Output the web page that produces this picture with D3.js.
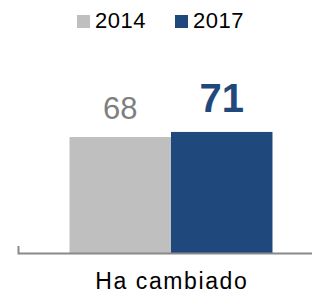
<!DOCTYPE html>
<html>
<head>
<meta charset="utf-8">
<script src="https://cdn.jsdelivr.net/npm/d3@7"></script>
<style>
  body { margin: 0; background: #fff; }
  svg { display: block; font-family: "Liberation Sans", Arial, sans-serif; }
</style>
</head>
<body>
<div id="chart"></div>
<script>
const categories = ["Ha cambiado"];
const years = ["2014", "2017"];
const values2014 = [68];
const values2017 = [71];
const yearColors = ["#bfbfbf", "#1f497d"];

(function chart() {
  const width = 312, height = 294,
    axisY = 253;

  const svg = d3.select("#chart")
    .append("svg")
    .attr("width", width)
    .attr("height", height);

  const data = categories.map((c, i) => ({ cat: c, vals: [values2014[i], values2017[i]] }));

  const x0 = d3.scaleBand(categories, [18, 324]).padding(0.2024);
  const x1 = d3.scaleBand(years, [0, x0.bandwidth()]);
  const y = d3.scaleLinear([0, 100], [axisY, axisY - 170.5]);
  const color = d3.scaleOrdinal(years, yearColors);

  const groups = svg.selectAll(".cat")
    .data(data)
    .join("g")
    .attr("class", "cat")
    .attr("transform", d => `translate(${x0(d.cat)},0)`);

  groups.selectAll("rect")
    .data(d => d.vals.map((v, i) => ({ year: years[i], v })))
    .join("rect")
    .attr("x", d => x1(d.year))
    .attr("y", d => y(d.v))
    .attr("width", x1.bandwidth())
    .attr("height", d => y(0) - y(d.v))
    .attr("fill", d => color(d.year));

  groups.selectAll(".val")
    .data(d => d.vals.map((v, i) => ({ year: years[i], v })))
    .join("text")
    .attr("class", "val")
    .attr("text-anchor", "middle")
    .attr("x", d => x1(d.year) + x1.bandwidth() / 2)
    .attr("y", d => d.year === "2014" ? y(d.v) - 18 : y(d.v) - 20)
    .attr("fill", d => d.year === "2014" ? "#7f7f7f" : "#1f497d")
    .attr("font-size", d => d.year === "2014" ? 31 : 40)
    .attr("font-weight", d => d.year === "2014" ? "normal" : "bold")
    .text(d => d.v);

  const axis = svg.append("g")
    .attr("transform", `translate(0,${axisY})`)
    .call(d3.axisBottom(x0).tickSize(0).tickSizeOuter(-7).tickPadding(19.5));
  axis.select(".domain").attr("stroke", "#898989").attr("stroke-width", 2);
  axis.selectAll(".tick text")
    .attr("font-size", 23)
    .attr("letter-spacing", 1.6)
    .attr("dx", 0.8)
    .attr("font-family", "Liberation Sans, Arial, sans-serif")
    .attr("fill", "#000");

  // legend
  const legendX = [77, 175];
  const legend = svg.selectAll(".legend")
    .data(years)
    .join("g")
    .attr("class", "legend");

  legend.append("rect")
    .attr("x", (d, i) => legendX[i])
    .attr("y", 15)
    .attr("width", 13)
    .attr("height", 13)
    .attr("fill", d => color(d));

  legend.append("text")
    .attr("x", (d, i) => legendX[i] + 18)
    .attr("y", 28)
    .attr("font-size", 22)
    .attr("letter-spacing", 0.5)
    .attr("fill", "#000")
    .text(d => d);
})();
</script>
</body>
</html>
